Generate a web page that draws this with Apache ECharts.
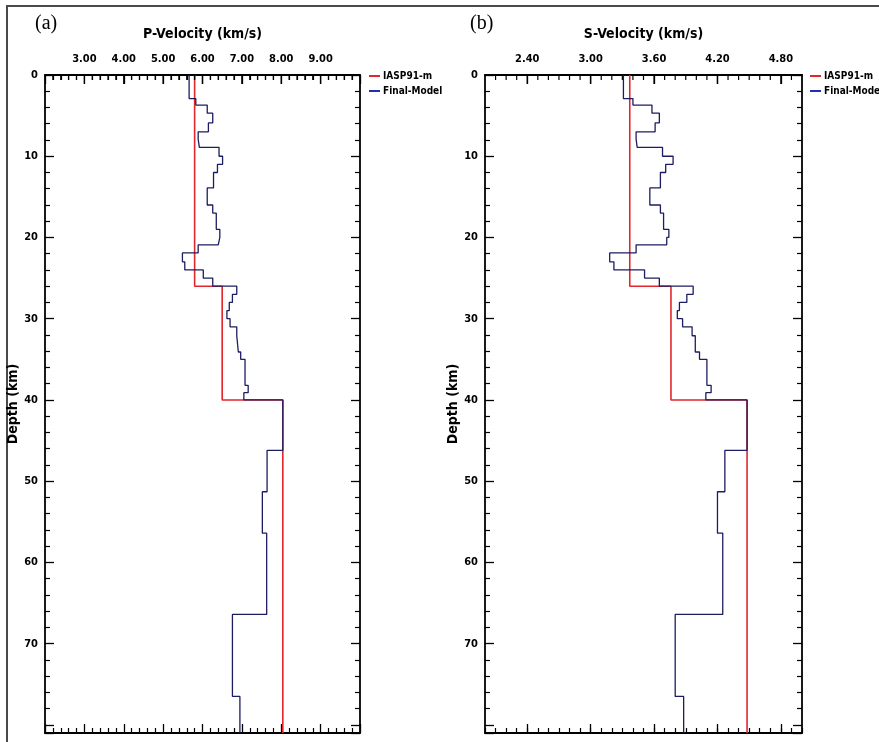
<!DOCTYPE html>
<html>
<head>
<meta charset="utf-8">
<script src="https://cdn.jsdelivr.net/npm/echarts@6/dist/echarts.min.js"></script>
<style>
html,body{margin:0;padding:0;background:#fff;}
#chart{width:879px;height:742px;}
</style>
</head>
<body>
<div id="chart"></div>
<script>
// ---- data ----
// depth (km) at the top of each layer of the final model
const layerTops = [0, 2.9, 3.7, 4.7, 5.9, 7.0, 7.9, 8.9, 10.0, 11.0, 12.0, 13.9, 16.0, 17.0, 19.0, 20.0, 20.9, 21.9, 23.0, 24.0, 25.0, 26.0, 27.0, 28.0, 29.0, 30.0, 31.0, 32.1, 34.1, 35.0, 38.2, 39.1, 40.0, 46.2, 51.3, 56.4, 66.4, 76.5];
// P-velocity of final model (km/s)
const pFinal = [5.66, 5.83, 6.12, 6.26, 6.15, 5.89, 5.92, 6.42, 6.51, 6.38, 6.28, 6.12, 6.26, 6.35, 6.44, 6.40, 5.89, 5.49, 5.55, 6.02, 6.26, 6.87, 6.76, 6.68, 6.62, 6.70, 6.87, 6.91, 6.97, 7.08, 7.16, 7.05, 8.04, 7.64, 7.52, 7.63, 6.76, 6.95];
// S-velocity of final model (km/s)
const sFinal = [3.31, 3.40, 3.58, 3.65, 3.61, 3.43, 3.44, 3.68, 3.78, 3.71, 3.66, 3.56, 3.66, 3.69, 3.74, 3.72, 3.43, 3.18, 3.22, 3.51, 3.65, 3.97, 3.91, 3.84, 3.82, 3.87, 3.96, 3.99, 4.03, 4.10, 4.14, 4.09, 4.48, 4.27, 4.20, 4.25, 3.80, 3.88];
// IASP91-m reference model
const refTops = [0, 26, 40];
const pRef = [5.80, 6.50, 8.04];
const sRef = [3.37, 3.76, 4.48];
const depthMax = 81;
const depthTicks = [0, 10, 20, 30, 40, 50, 60, 70];
const pTickLabels = [3, 4, 5, 6, 7, 8, 9];
const sTickLabels = [2.4, 3.0, 3.6, 4.2, 4.8];
const names = ['IASP91-m', 'Final-Model'];
const panelTitles = ['P-Velocity (km/s)', 'S-Velocity (km/s)'];
const panelLetters = ['(a)', '(b)'];
const depthTitle = 'Depth (km)';

// ---- build step profiles ----
function steps(tops, vals, bottom) {
  const pts = [];
  for (let i = 0; i < tops.length; i++) {
    const next = i + 1 < tops.length ? tops[i + 1] : bottom;
    pts.push([vals[i], tops[i]]);
    pts.push([vals[i], next]);
  }
  return pts;
}

const FONT = '"Liberation Sans Narrow", "DejaVu Sans Condensed", "Liberation Sans", Arial, sans-serif';
const RED = '#e2262c';
const FIN = '#1c1c62';
const lbl = { fontFamily: FONT, fontWeight: 'bold', fontSize: 11, color: '#000' };
const MAJ = 9, MIN = 5;

function axLine(show) { return { show: show, onZero: false, lineStyle: { color: '#000', width: 1.8 } }; }

function xAx(grid, pos, opts) {
  return Object.assign({
    type: 'value', gridIndex: grid, position: pos,
    axisLine: axLine(true), splitLine: { show: false },
    axisTick: { show: true, inside: true, length: MAJ, lineStyle: { color: '#000', width: 1.3 } },
    axisLabel: { show: false }
  }, opts);
}
function yAx(grid, pos, withLabels) {
  return {
    type: 'value', gridIndex: grid, position: pos, inverse: true,
    min: 0, max: depthMax, interval: 10,
    axisLine: axLine(true), splitLine: { show: false },
    axisTick: { show: true, inside: true, length: MAJ, lineStyle: { color: '#000', width: 1.3 } },
    minorTick: { show: true, splitNumber: 5, length: MIN, lineStyle: { color: '#000', width: 1.2 } },
    axisLabel: withLabels ? Object.assign({ show: true, margin: 7,
      formatter: v => depthTicks.indexOf(v) >= 0 ? String(v) : '' }, lbl) : { show: false },
    name: withLabels ? depthTitle : '',
    nameLocation: 'middle', nameRotate: 90, nameGap: 22,
    nameTextStyle: { fontFamily: FONT, fontWeight: 'bold', fontSize: 14, color: '#000' }
  };
}

const pLabelFmt = v => pTickLabels.some(t => Math.abs(t - v) < 1e-6) ? v.toFixed(2) : '';
const minorP = { show: true, splitNumber: 5, length: MIN, lineStyle: { color: '#000', width: 1.2 } };

const baseGraphic = [
  { type: 'rect', shape: { x: 7, y: 6, width: 900, height: 800 }, style: { fill: 'none', stroke: '#4a4a4a', lineWidth: 2 }, silent: true },
  { type: 'text', left: 35, top: 14, style: { text: panelLetters[0], font: '20px "Liberation Serif", "DejaVu Serif", serif', fill: '#000' } },
  { type: 'text', left: 470, top: 14, style: { text: panelLetters[1], font: '20px "Liberation Serif", "DejaVu Serif", serif', fill: '#000' } }
];

const option = {
  animation: false,
  backgroundColor: '#fff',
  grid: [
    { left: 45, top: 75, width: 315, height: 658 },
    { left: 485, top: 75, width: 317, height: 658 }
  ],
  xAxis: [
    // 0 panel a top: line, labels, name
    xAx(0, 'top', {
      min: 2, max: 10, interval: 1, minorTick: minorP,
      axisLabel: Object.assign({ show: true, margin: 10, formatter: pLabelFmt }, lbl),
      name: panelTitles[0], nameLocation: 'middle', nameGap: 34,
      nameTextStyle: { fontFamily: FONT, fontWeight: 'bold', fontSize: 14, color: '#000' }
    }),
    // 1 panel a bottom
    xAx(0, 'bottom', { min: 2, max: 10, interval: 1, minorTick: minorP }),
    // 2 panel b top: line, labels, name
    xAx(1, 'top', {
      min: 2, max: 5,
      axisTick: { show: true, inside: true, length: MAJ, customValues: sTickLabels, lineStyle: { color: '#000', width: 1.3 } },
      axisLabel: Object.assign({ show: true, margin: 10, customValues: sTickLabels, formatter: v => v.toFixed(2) }, lbl),
      name: panelTitles[1], nameLocation: 'middle', nameGap: 34,
      nameTextStyle: { fontFamily: FONT, fontWeight: 'bold', fontSize: 14, color: '#000' }
    }),
    // 3 panel b bottom (major)
    xAx(1, 'bottom', {
      min: 2, max: 5,
      axisTick: { show: true, inside: true, length: MAJ, customValues: sTickLabels, lineStyle: { color: '#000', width: 1.3 } }
    }),
    // 4 panel b bottom (minor)
    xAx(1, 'bottom', {
      min: 2, max: 5, interval: 0.1, axisLine: axLine(false),
      axisTick: { show: true, inside: true, length: MIN, lineStyle: { color: '#000', width: 1.2 } }
    })
  ],
  yAxis: [
    yAx(0, 'left', true),
    yAx(0, 'right', false),
    yAx(1, 'left', true),
    yAx(1, 'right', false)
  ],
  legend: [
    { left: 364, top: 66, orient: 'vertical', itemGap: 5, itemWidth: 11, itemHeight: 2, icon: 'rect',
      data: [{ name: names[0], itemStyle: { color: RED } }, { name: names[1], itemStyle: { color: '#2030b0' } }],
      textStyle: { fontFamily: FONT, fontWeight: 'bold', fontSize: 10, color: '#000', padding: [0, 0, 0, -2] } },
    { left: 805, top: 66, orient: 'vertical', itemGap: 5, itemWidth: 11, itemHeight: 2, icon: 'rect',
      data: [{ name: names[0], itemStyle: { color: RED } }, { name: names[1], itemStyle: { color: '#2030b0' } }],
      textStyle: { fontFamily: FONT, fontWeight: 'bold', fontSize: 10, color: '#000', padding: [0, 0, 0, -2] } }
  ],
  graphic: baseGraphic,
  series: [
    { name: names[0], type: 'line', xAxisIndex: 0, yAxisIndex: 0, showSymbol: false, symbol: 'none',
      data: steps(refTops, pRef, depthMax), lineStyle: { color: RED, width: 1.6 }, itemStyle: { color: RED } },
    { name: names[1], type: 'line', xAxisIndex: 0, yAxisIndex: 0, showSymbol: false, symbol: 'none',
      data: steps(layerTops, pFinal, depthMax), lineStyle: { color: FIN, width: 1.3 }, itemStyle: { color: FIN } },
    { name: names[0], type: 'line', xAxisIndex: 2, yAxisIndex: 2, showSymbol: false, symbol: 'none',
      data: steps(refTops, sRef, depthMax), lineStyle: { color: RED, width: 1.6 }, itemStyle: { color: RED } },
    { name: names[1], type: 'line', xAxisIndex: 2, yAxisIndex: 2, showSymbol: false, symbol: 'none',
      data: steps(layerTops, sFinal, depthMax), lineStyle: { color: FIN, width: 1.3 }, itemStyle: { color: FIN } }
  ]
};

const chart = echarts.init(document.getElementById('chart'), null, { renderer: 'canvas' });
chart.setOption(option);

// top-edge tick marks, positioned through the axes' own scales
const tickMarks = [];
function addTopTicks(xIdx, yIdx, step, lo, hi, majors) {
  const y0 = chart.convertToPixel({ yAxisIndex: yIdx }, 0);
  for (let k = Math.round(lo / step); k <= Math.round(hi / step); k++) {
    const v = k * step;
    const x = chart.convertToPixel({ xAxisIndex: xIdx }, v);
    const major = majors.some(m => Math.abs(m - v) < 1e-6);
    tickMarks.push({ type: 'line', z: 100, silent: true,
      shape: { x1: x, y1: y0, x2: x, y2: y0 + (major ? MAJ : MIN) },
      style: { stroke: '#000', lineWidth: major ? 1.3 : 1.2 } });
  }
}
addTopTicks(0, 0, 0.2, 2.2, 9.8, [3, 4, 5, 6, 7, 8, 9]);
addTopTicks(2, 2, 0.1, 2.1, 4.9, sTickLabels);
chart.setOption({ graphic: baseGraphic.concat(tickMarks) });
</script>
</body>
</html>
